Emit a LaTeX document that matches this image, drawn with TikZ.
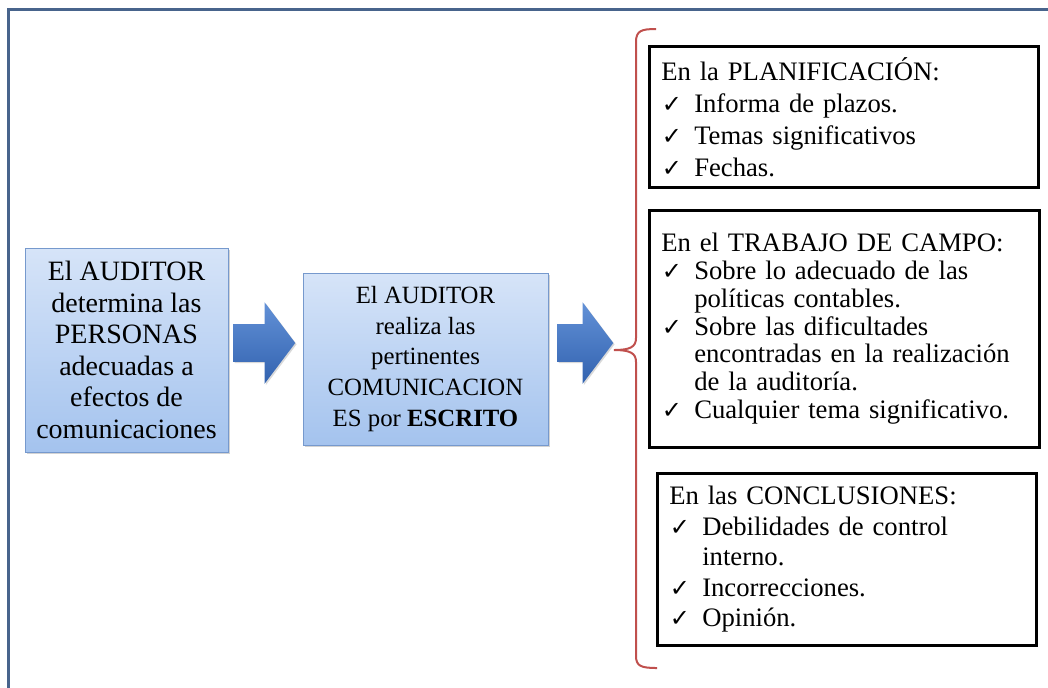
\documentclass[tikz,border=0pt]{standalone}
\usepackage{fontspec}
\setmainfont{Liberation Serif}
\newfontfamily\chkfont{DejaVu Sans}
\usetikzlibrary{positioning,shapes.arrows,shadows}
\definecolor{audFrame}{RGB}{72,100,140}
\definecolor{audBoxTop}{RGB}{214,228,248}
\definecolor{audBoxBot}{RGB}{164,195,238}
\definecolor{audBoxLine}{RGB}{118,153,205}
\definecolor{audArrTop}{RGB}{98,145,215}
\definecolor{audArrBot}{RGB}{50,98,175}
\definecolor{audBrace}{RGB}{192,80,77}
\newcommand{\chk}{\makebox[24.75pt][l]{\hspace{0.5pt}{\chkfont\fontsize{18}{18}\selectfont ✓}}}
\newcommand{\chkindent}{\hspace*{24.75pt}}
\tikzset{
  audbox/.style={draw=audBoxLine,line width=0.6pt,top color=audBoxTop,bottom color=audBoxBot,
    align=center,inner sep=0pt,drop shadow={shadow xshift=1.2pt,shadow yshift=-1.2pt,opacity=0.35}},
  audarrow/.style={single arrow,top color=audArrTop,bottom color=audArrBot,draw=none,anchor=tail,
    inner xsep=0pt,inner ysep=13.875pt,single arrow head extend=16.5pt,single arrow tip angle=106,
    minimum width=60.75pt,drop shadow={shadow xshift=1pt,shadow yshift=-1pt,opacity=0.3}},
  listbox/.style={draw=black,line width=1.9pt,fill=white,anchor=north west,align=left,
    inner xsep=9pt,inner ysep=0pt},
  audframe/.style={draw=audFrame,line width=2.25pt},
  audbrace/.style={draw=audBrace,line width=1.5pt},
}
\begin{document}
\begin{tikzpicture}[x=0.75pt,y=-0.75pt]
  \useasboundingbox (0,0) rectangle (1048,687);

  % outer frame, open to the right and bottom
  \draw[audframe] (1052,9) -- (8,9) -- (8,692);

  % the two blue steps and their block arrows
  \node[audbox,minimum width=152.25pt,minimum height=153pt,font=\fontsize{21}{23.6}\selectfont]
    (quien) at (126.5,350) {El AUDITOR\\ determina las\\ PERSONAS\\ adecuadas a\\ efectos de\\ comunicaciones};
  \node[audbox,minimum width=183.75pt,minimum height=129pt,font=\fontsize{18.6}{22.9}\selectfont]
    (escrito) at (425.5,359) {El AUDITOR\\ realiza las\\ pertinentes\\ COMUNICACION\\ ES por \textbf{ESCRITO}};
  \node[audarrow,minimum height=46.5pt] (arr1) at (233,343) {};
  \node[audarrow,minimum height=42pt] (arr2) at (557,343) {};

  % curly brace gathering the three moments
  \draw[audbrace] (656,29) .. controls (641,29) and (636,31) .. (636,42) -- (636,338)
    .. controls (636,347) and (630,350) .. (614,350)
    .. controls (630,350) and (636,353) .. (636,362) -- (636,656)
    .. controls (636,666) and (641,668) .. (657,668);

  % what is communicated at each stage
  \node[listbox,text width=273.75pt,minimum height=105.75pt,font=\fontsize{20}{24}\selectfont]
    (plan) at (648,45) {En la PLANIFICACIÓN:\\ \chk Informa de plazos.\\ \chk Temas significativos\\ \chk Fechas.};
  \node[listbox,text width=274.5pt,minimum height=177.75pt,font=\fontsize{20}{20.8}\selectfont]
    (campo) at (648,209) {En el TRABAJO DE CAMPO:\\ \chk Sobre lo adecuado de las\\ \chkindent políticas contables.\\
      \chk Sobre las dificultades\\ \chkindent encontradas en la realización\\ \chkindent de la auditoría.\\
      \chk Cualquier tema significativo.};
  \node[listbox,text width=266.25pt,minimum height=129pt,font=\fontsize{20}{22.9}\selectfont]
    (conclus) at (656,472) {En las CONCLUSIONES:\\ \chk Debilidades de control\\ \chkindent interno.\\
      \chk Incorrecciones.\\ \chk Opinión.};
\end{tikzpicture}
\end{document}
